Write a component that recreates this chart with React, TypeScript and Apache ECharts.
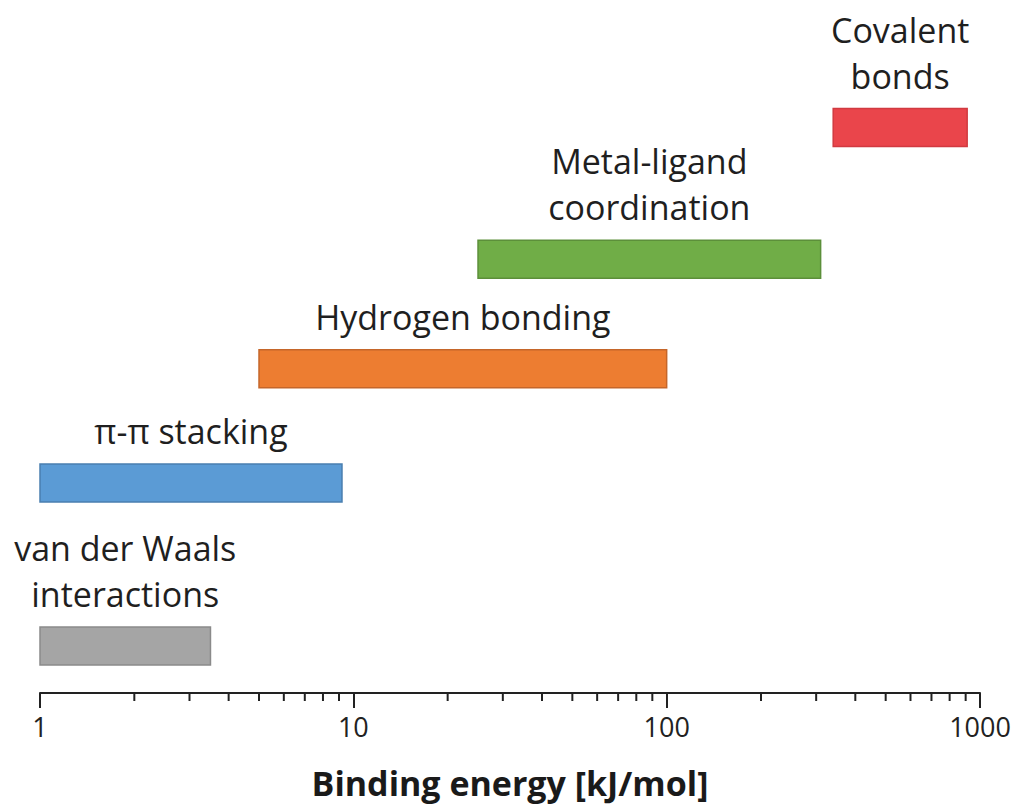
import React, { useEffect, useRef } from "react";
import * as echarts from "echarts";

const categories = [
  "van der Waals\ninteractions",
  "π-π stacking",
  "Hydrogen bonding",
  "Metal-ligand\ncoordination",
  "Covalent\nbonds",
];
const rangeLow = [1, 1, 5, 25, 340];
const rangeHigh = [3.5, 9.2, 100, 310, 910];
const rowLevel = [0.68, 3.03, 4.68, 6.26, 8.16];
const fillColors = ["#a5a5a5", "#5b9bd5", "#ed7d31", "#70ad47", "#ea454b"];
const strokeColors = ["#8a8a8a", "#4a7fb0", "#c5662a", "#5c8f3a", "#d13a40"];
const minorTickValues = [2, 3, 4, 5, 6, 7, 8, 9, 20, 30, 40, 50, 60, 70, 80, 90, 200, 300, 400, 500, 600, 700, 800, 900];
const axisTitle = "Binding energy [kJ/mol]";

const FONT = "'Open Sans', 'DejaVu Sans', sans-serif";

export default function App() {
  const ref = useRef<HTMLDivElement>(null);
  useEffect(() => {
    if (!ref.current) return;
    const chart = echarts.init(ref.current, null, { renderer: "svg" });
    const barData = categories.map((c, i) => [rangeLow[i], rangeHigh[i], rowLevel[i]]);
    chart.setOption({
      animation: false,
      backgroundColor: "#ffffff",
      grid: { left: 40, right: 36, top: 0, bottom: 114, containLabel: false },
      xAxis: {
        type: "log",
        logBase: 10,
        min: 1,
        max: 1000,
        name: axisTitle,
        nameLocation: "middle",
        nameGap: 73,
        nameTextStyle: { fontFamily: FONT, fontSize: 34, fontWeight: "bold", color: "#1a1a1a" },
        axisLine: { show: true, lineStyle: { color: "#222", width: 2 } },
        axisTick: { show: true, length: 15, lineStyle: { color: "#222", width: 2 } },
        axisLabel: {
          fontFamily: FONT,
          fontSize: 27,
          color: "#222",
          margin: 20,
          formatter: (v: number) => String(Math.round(v)),
        },
        splitLine: { show: false },
        minorTick: { show: false },
      },
      yAxis: { type: "value", min: 0, max: 10, show: false },
      series: [
        {
          type: "custom",
          clip: false,
          data: barData,
          renderItem: (params: any, api: any) => {
            const i = params.dataIndex;
            const p0 = api.coord([api.value(0), api.value(2)]);
            const p1 = api.coord([api.value(1), api.value(2)]);
            const h = 38;
            const top = p0[1] - h / 2;
            return {
              type: "group",
              children: [
                {
                  type: "rect",
                  shape: { x: p0[0], y: top, width: p1[0] - p0[0], height: h },
                  style: { fill: fillColors[i], stroke: strokeColors[i], lineWidth: 1.5 },
                },
                {
                  type: "text",
                  x: (p0[0] + p1[0]) / 2,
                  y: top - 10,
                  style: {
                    text: categories[i],
                    fill: "#1f1f1f",
                    fontFamily: FONT,
                    fontSize: 34,
                    lineHeight: 46,
                    align: "center",
                    verticalAlign: "bottom",
                  },
                },
              ],
            };
          },
        },
        {
          type: "custom",
          clip: false,
          data: minorTickValues.map((v) => [v, 0]),
          renderItem: (params: any, api: any) => {
            const p = api.coord([api.value(0), api.value(1)]);
            return {
              type: "line",
              shape: { x1: p[0], y1: p[1], x2: p[0], y2: p[1] + 8 },
              style: { stroke: "#222", lineWidth: 2 },
            };
          },
        },
      ],
    });
    return () => chart.dispose();
  }, []);
  return (
    <div
      ref={ref}
      style={{ position: "fixed", left: 0, top: 0, width: 1016, height: 807, background: "#fff" }}
    />
  );
}
